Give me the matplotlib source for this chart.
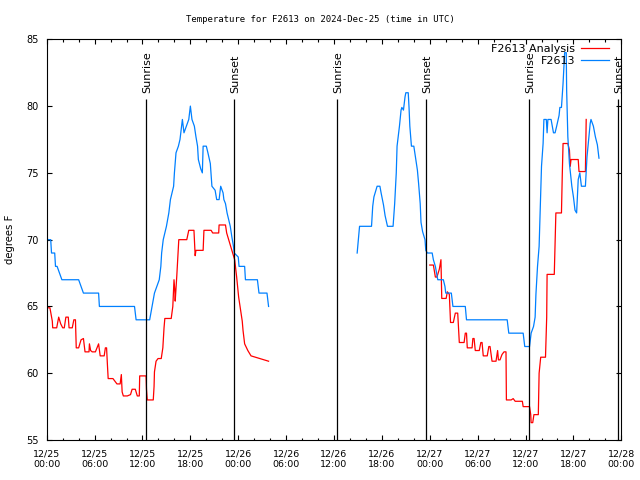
import numpy as np
import matplotlib.pyplot as plt
from matplotlib.ticker import MultipleLocator

# hours since 2024-12-25 00:00 UTC
obs_h1 = [0, 0.1, 0.5, 0.6, 1.0, 1.1, 1.3, 1.6, 1.9, 4.0, 4.3, 4.6, 6.5, 6.6, 11.0, 11.2, 12.9, 13.2,
          13.5, 14.1, 14.3, 14.4, 14.6, 15.0, 15.3, 15.5, 15.9, 16.0, 16.2, 16.5, 16.7, 17.0, 17.2, 17.5,
          17.8, 18.0, 18.2, 18.5, 18.7, 18.9, 19.0, 19.3, 19.5, 19.6, 20.0, 20.2, 20.5, 20.7, 21.1, 21.3,
          21.6, 21.8, 22.1, 22.2, 22.4, 22.6, 22.8, 23.0, 23.2, 23.4, 23.5, 24.0, 24.1, 24.8, 24.9, 26.4,
          26.6, 27.6, 27.8]
obs_t1 = [71, 70, 70, 69, 69, 68, 68, 67.5, 67, 67, 66.5, 66, 66, 65, 65, 64, 64, 65,
          66, 67, 68, 69, 70, 71, 72, 73, 74, 75, 76.5, 77, 77.5, 79, 78, 78.5,
          79, 80, 79, 78.5, 77.7, 77, 76, 75.3, 75, 77, 77, 76.5, 75.7, 74, 73.7, 73,
          73, 74, 73.5, 73, 72.7, 72, 71.5, 71, 70.2, 69.5, 69, 68.7, 68, 68, 67, 67,
          66, 66, 65]

obs_h2 = [38.9, 39.2, 40.7, 40.85, 41.0, 41.3, 41.4, 41.75, 41.9, 42.2, 42.4, 42.7, 43.4, 43.6, 43.8,
          43.9, 44.2, 44.4, 44.5, 44.7, 44.9, 45.0, 45.3, 45.4, 45.5, 45.7, 46.0, 46.2, 46.45, 46.6,
          46.8, 46.9, 47.1, 47.4, 47.5, 47.7, 48.3, 48.45, 48.7, 49.0, 49.7, 49.9, 50.0, 50.7, 50.9,
          52.45, 52.6, 57.7, 57.9, 59.7, 59.9, 60.5, 60.7, 61.0, 61.2, 61.3, 61.5, 61.7, 61.85, 62.0,
          62.2, 62.3, 62.6, 62.7, 62.8, 63.2, 63.5, 63.7, 63.9, 64.2, 64.3, 64.5, 64.7, 64.9, 65.1,
          65.15, 65.3, 65.5, 65.8, 66.0, 66.2, 66.4, 66.6, 66.8, 67.0, 67.5, 67.7, 68.1, 68.2, 68.5,
          68.75, 69.0, 69.2]
obs_t2 = [69, 71, 71, 72.5, 73.2, 73.8, 74, 74, 73.5, 72.6, 71.8, 71, 71, 72.7, 75,
          77, 78.5, 79.7, 79.9, 79.7, 80.7, 81, 81, 79.9, 78.5, 77, 77, 76.2, 75.2, 74.2,
          72.7, 71.3, 70.6, 70, 69.2, 69, 69, 68.5, 68, 67, 67, 66.5, 66, 66, 65,
          65, 64, 64, 63, 63, 62, 62, 63, 63.5, 64.2, 65.9, 68, 69.5, 72.5, 75.5,
          77.2, 79, 79, 78, 79, 79, 78, 78, 78.5, 79.3, 79.9, 79.9, 81.7, 84, 84,
          81.2, 77.7, 75.7, 74, 73.2, 72.2, 72, 74.5, 75, 74, 74, 76.2, 78.7, 79, 78.5,
          77.7, 77.1, 76.1]

ana_h1 = [0, 0.4, 0.7, 0.75, 1.25, 1.5, 1.75, 2.0, 2.2, 2.4, 2.7, 2.8, 3.2, 3.4, 3.6, 3.7, 4.0, 4.3,
          4.6, 4.8, 5.3, 5.35, 5.5, 5.7, 6.1, 6.3, 6.5, 6.7, 7.2, 7.35, 7.5, 7.6, 7.7, 8.3, 8.8, 9.2,
          9.35, 9.45, 9.6, 10.1, 10.5, 10.7, 11.1, 11.35, 11.6, 11.65, 12.45, 12.5, 12.6, 13.35, 13.45,
          13.5, 13.7, 13.95, 14.35, 14.55, 14.7, 14.8, 15.6, 15.8, 15.95, 16.05, 16.1, 16.3, 16.55,
          17.55, 17.8, 18.45, 18.6, 18.7, 19.6, 19.7, 20.6, 20.8, 21.55, 21.6, 22.4, 22.55, 22.8, 23.2,
          23.55, 23.8, 24.05, 24.3, 24.5, 24.6, 24.8, 25.2, 25.6, 26.7, 27.8]
ana_t1 = [64.9, 64.9, 63.9, 63.4, 63.4, 64.2, 63.7, 63.4, 63.4, 64.2, 64.2, 63.4, 63.4, 64.0, 64.0,
          61.9, 61.9, 62.5, 62.6, 61.6, 61.6, 62.2, 61.7, 61.6, 61.6, 61.9, 62.2, 61.3, 61.3, 61.9,
          61.9, 60.7, 59.6, 59.6, 59.2, 59.2, 59.9, 58.6, 58.3, 58.3, 58.4, 58.8, 58.8, 58.3, 58.3,
          59.8, 59.8, 58.8, 58.0, 58.0, 59.0, 60.1, 60.9, 61.1, 61.1, 61.9, 63.4, 64.1, 64.1, 65.0,
          67.0, 66.2, 65.4, 67.3, 70.0, 70.0, 70.7, 70.7, 68.8, 69.2, 69.2, 70.7, 70.7, 70.5, 70.5,
          71.1, 71.1, 70.5, 70.0, 69.2, 68.5, 67.2, 65.7, 64.7, 63.9, 63.2, 62.2, 61.7, 61.3, 61.1,
          60.9]

ana_h2 = [48.0, 48.45, 48.7, 48.9, 49.2, 49.4, 49.5, 50.05, 50.2, 50.45, 50.6, 50.95, 51.2, 51.5, 51.7,
          52.3, 52.45, 52.6, 52.7, 53.3, 53.4, 53.55, 53.7, 54.2, 54.4, 54.55, 54.7, 55.2, 55.4, 55.55,
          55.8, 56.3, 56.5, 56.6, 56.8, 57.05, 57.3, 57.55, 57.6, 58.2, 58.45, 58.7, 59.3, 59.6, 59.7,
          60.3, 60.5, 60.65, 60.7, 60.9, 61.05, 61.6, 61.7, 61.9, 62.5, 62.65, 62.7, 63.6, 63.7, 63.8,
          64.5, 64.6, 64.7, 65.3, 65.5, 65.6, 65.7, 66.6, 66.7, 67.5, 67.6]
ana_t2 = [68.1, 68.1, 67.2, 67.2, 67.8, 68.5, 65.6, 65.6, 66.1, 65.9, 63.8, 63.8, 64.5, 64.5, 62.3,
          62.3, 63.0, 63.0, 61.9, 61.9, 62.6, 62.6, 61.7, 61.7, 62.3, 62.3, 61.3, 61.3, 62.0, 62.0,
          60.9, 60.9, 61.7, 61.0, 61.0, 61.4, 61.6, 61.6, 58.0, 58.0, 58.1, 57.9, 57.9, 57.9, 57.5,
          57.5, 57.5, 56.9, 56.3, 56.3, 56.9, 56.9, 60.0, 61.2, 61.2, 64.2, 67.4, 67.4, 69.7, 72.0,
          72.0, 74.8, 77.2, 77.2, 76.7, 75.5, 76.0, 76.0, 75.1, 75.1, 79.0]

sun_hours = [12.48, 23.51, 36.42, 47.57, 60.44, 71.6]
sun_labels = ['Sunrise', 'Sunset', 'Sunrise', 'Sunset', 'Sunrise', 'Sunset']

tick_hours = list(range(0, 73, 6))
tick_labels = ['12/25\n00:00', '12/25\n06:00', '12/25\n12:00', '12/25\n18:00',
               '12/26\n00:00', '12/26\n06:00', '12/26\n12:00', '12/26\n18:00',
               '12/27\n00:00', '12/27\n06:00', '12/27\n12:00', '12/27\n18:00',
               '12/28\n00:00']

red = '#ff0000'
blue = '#0080ff'
sans = 'DejaVu Sans'

fig = plt.figure(figsize=(6.4, 4.8), dpi=100)
ax = fig.add_axes([0.073, 0.0833, 0.8978, 0.8348])

l_ana, = ax.plot(ana_h1, ana_t1, color=red, lw=0.9, label='F2613 Analysis')
ax.plot(ana_h2, ana_t2, color=red, lw=0.9)
l_obs, = ax.plot(obs_h1, obs_t1, color=blue, lw=0.9, label='F2613')
ax.plot(obs_h2, obs_t2, color=blue, lw=0.9)

for h, lab in zip(sun_hours, sun_labels):
    ax.vlines(h, 55, 80.5, color='black', lw=0.9)
    ax.text(h + 0.15, 81.0, lab, rotation=90, ha='center', va='bottom',
            fontsize=8, family=sans)

ax.set_xlim(0, 72)
ax.set_ylim(55, 85)
ax.xaxis.set_minor_locator(MultipleLocator(2))
ax.set_xticks(tick_hours)
ax.set_xticklabels(tick_labels, family=sans, fontsize=6.8, linespacing=1.25)
ax.set_yticks(range(55, 86, 5))
ax.set_yticklabels([str(v) for v in range(55, 86, 5)], family=sans, fontsize=7)
ax.tick_params(which='both', direction='in', top=True, right=True, width=0.8)
ax.tick_params(which='major', length=3.5)
ax.tick_params(which='minor', length=1.8)
ax.tick_params(axis='x', pad=7)
ax.tick_params(axis='y', pad=6)
for s in ax.spines.values():
    s.set_linewidth(0.8)

ax.set_ylabel('degrees F', family=sans, fontsize=7.3)
ax.yaxis.set_label_coords(-0.055, 0.5)

ax.legend(handles=[l_ana, l_obs], loc='upper right', bbox_to_anchor=(0.986, 1.0),
          frameon=False, markerfirst=False, handlelength=2.5, handletextpad=0.55,
          borderaxespad=0, labelspacing=0.22, prop={'family': sans, 'size': 8})

fig.text(0.5, 1 - 19 / 480, 'Temperature for F2613 on 2024-Dec-25 (time in UTC)',
         ha='center', va='center', family='DejaVu Sans Mono', fontsize=6.5)

fig.savefig('out.png', dpi=100)
